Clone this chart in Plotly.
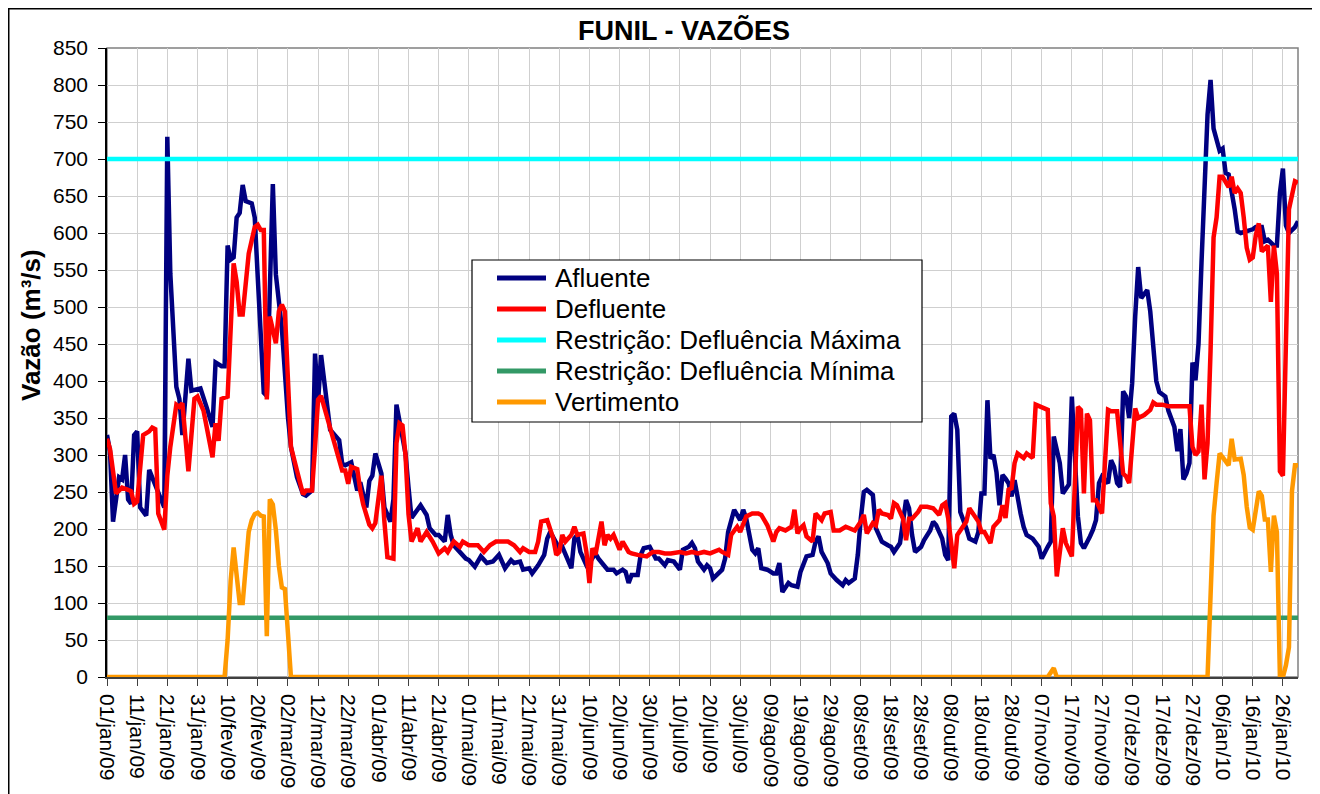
import pandas as pd
import plotly.graph_objects as go

# ---------------- data (day offset from 01/jan/2009, value in m3/s) ----------------
START_DATE = "2009-01-01"

afluente_dias = [0, 1, 2, 4, 5, 6, 7, 8, 9, 10, 11, 13, 14, 15, 17, 18, 19, 20, 21, 23,
                 24, 25, 27, 28, 31, 33, 35, 36, 38, 39, 40, 41, 42, 43, 44, 45, 46, 48, 49, 50,
                 51, 52, 53, 55, 56, 58, 60, 61, 63, 65, 66, 68, 69, 70, 71, 73, 74, 77, 78, 79,
                 81, 83, 84, 86, 87, 88, 89, 91, 92, 94, 95, 96, 97, 99, 100, 101, 104, 106, 107, 109,
                 110, 112, 113, 114, 115, 117, 119, 120, 122, 124, 126, 128, 130, 132, 134, 135, 137, 138, 140, 141,
                 143, 145, 146, 147, 149, 150, 151, 152, 154, 155, 156, 157, 159, 160, 162, 163, 165, 166, 168, 169,
                 171, 172, 173, 174, 176, 177, 178, 180, 182, 183, 185, 186, 188, 190, 191, 193, 194, 195, 196, 198,
                 199, 200, 201, 203, 204, 205, 206, 208, 210, 211, 212, 214, 215, 216, 217, 219, 221, 222, 223, 224,
                 226, 227, 229, 230, 232, 234, 235, 236, 237, 239, 240, 242, 244, 245, 246, 248, 249, 250, 251, 252,
                 254, 255, 257, 259, 260, 261, 262, 263, 265, 266, 267, 268, 270, 271, 273, 274, 275, 277, 278, 279,
                 280, 281, 282, 283, 285, 286, 288, 289, 290, 291, 292, 293, 294, 295, 296, 297, 298, 299, 300, 301,
                 303, 304, 305, 307, 309, 310, 312, 313, 314, 316, 317, 318, 319, 320, 321, 322, 323, 324, 326, 327,
                 328, 329, 330, 332, 333, 334, 335, 336, 337, 338, 339, 340, 341, 342, 343, 345, 346, 347, 348, 349,
                 350, 351, 352, 354, 355, 356, 357, 358, 359, 360, 361, 362, 363, 364, 365, 366, 367, 369, 370, 371,
                 372, 374, 375, 376, 378, 380, 381, 383, 384, 385, 387, 388, 389, 390, 391, 392, 394, 395]
afluente_vals = [327, 305, 210, 270, 267, 300, 240, 234, 327, 332, 229, 218, 280, 270, 250, 240, 229, 730, 545, 392,
                 376, 327, 430, 387, 390, 365, 338, 425, 420, 420, 583, 564, 567, 621, 627, 665, 643, 640, 621, 540,
                 470, 384, 380, 666, 544, 471, 352, 311, 270, 247, 245, 252, 437, 371, 435, 367, 334, 320, 288, 286,
                 290, 252, 263, 229, 265, 272, 302, 275, 229, 210, 240, 368, 343, 302, 256, 215, 232, 219, 201, 192,
                 192, 183, 219, 192, 178, 169, 160, 158, 149, 163, 154, 156, 165, 147, 158, 154, 156, 145, 147, 140,
                 151, 165, 187, 196, 183, 174, 176, 165, 147, 187, 192, 169, 151, 154, 167, 160, 149, 145, 145, 140,
                 145, 142, 127, 138, 138, 165, 174, 176, 160, 160, 151, 158, 156, 145, 172, 176, 181, 174, 156, 145,
                 151, 147, 133, 142, 145, 160, 196, 226, 212, 226, 214, 172, 167, 174, 147, 145, 140, 140, 154, 115,
                 127, 124, 122, 142, 163, 165, 183, 190, 169, 154, 140, 131, 124, 131, 127, 133, 165, 214, 250, 253,
                 246, 201, 183, 178, 176, 169, 176, 181, 239, 228, 192, 169, 176, 185, 198, 210, 205, 187, 165, 158,
                 352, 356, 334, 223, 201, 187, 183, 196, 248, 248, 374, 295, 300, 277, 232, 273, 268, 262, 244, 266,
                 221, 203, 192, 187, 176, 160, 176, 183, 325, 289, 248, 255, 260, 379, 300, 217, 181, 174, 190, 199,
                 212, 262, 271, 262, 293, 284, 262, 257, 386, 379, 350, 397, 487, 554, 512, 523, 494, 447, 400, 385,
                 382, 379, 360, 338, 305, 335, 267, 275, 289, 425, 401, 450, 560, 680, 760, 807, 741, 711, 714, 681,
                 679, 632, 602, 600, 602, 605, 608, 608, 589, 591, 583, 583, 654, 687, 610, 600, 608, 616]

defluente_dias = [0, 1, 3, 5, 7, 8, 9, 10, 12, 14, 15, 16, 17, 19, 20, 21, 23, 24, 25, 27,
                  29, 30, 32, 35, 36, 37, 38, 40, 42, 43, 44, 45, 47, 49, 50, 51, 52, 53, 54, 55,
                  56, 57, 58, 59, 60, 61, 63, 65, 66, 68, 69, 70, 71, 73, 75, 76, 78, 79, 80, 81,
                  83, 84, 85, 87, 88, 89, 91, 92, 93, 95, 96, 97, 98, 99, 100, 101, 103, 104, 106, 108,
                  110, 112, 113, 115, 117, 118, 120, 122, 123, 125, 127, 129, 131, 133, 135, 137, 138, 140, 142, 143,
                  144, 146, 148, 149, 150, 151, 152, 154, 155, 156, 158, 159, 160, 161, 162, 164, 165, 166, 167, 168,
                  170, 171, 173, 174, 176, 179, 181, 183, 185, 187, 190, 192, 194, 196, 198, 200, 203, 204, 206, 207,
                  209, 210, 212, 214, 216, 217, 219, 220, 221, 222, 223, 225, 227, 228, 229, 230, 231, 232, 234, 235,
                  237, 238, 240, 241, 243, 245, 246, 248, 250, 251, 252, 254, 255, 256, 257, 259, 260, 261, 262, 264,
                  265, 266, 267, 269, 270, 272, 274, 276, 277, 278, 279, 280, 281, 282, 284, 285, 286, 287, 289, 290,
                  291, 293, 294, 296, 297, 298, 299, 300, 301, 302, 304, 305, 307, 308, 310, 312, 313, 314, 315, 316,
                  317, 318, 320, 321, 322, 323, 324, 325, 326, 327, 328, 330, 331, 332, 333, 335, 337, 338, 339, 341,
                  342, 344, 346, 347, 348, 350, 352, 355, 357, 359, 360, 361, 362, 363, 364, 365, 366, 367, 368, 369,
                  370, 372, 373, 374, 375, 376, 377, 378, 379, 380, 381, 382, 383, 385, 386, 387, 388, 389, 390, 391,
                  392, 394, 395]
defluente_vals = [322, 308, 248, 256, 253, 251, 234, 237, 327, 332, 337, 335, 221, 199, 272, 311, 368, 365, 370, 278,
                  376, 379, 360, 297, 343, 319, 376, 379, 559, 534, 490, 490, 572, 608, 611, 604, 604, 375, 487, 467,
                  451, 494, 503, 494, 400, 311, 279, 247, 252, 252, 311, 375, 380, 352, 320, 311, 279, 279, 261, 284,
                  281, 252, 233, 206, 201, 208, 272, 210, 162, 160, 316, 343, 340, 300, 220, 183, 201, 183, 196, 183,
                  167, 174, 169, 183, 176, 183, 178, 178, 178, 169, 178, 183, 183, 183, 178, 169, 174, 169, 169, 183,
                  210, 212, 187, 165, 169, 192, 183, 192, 203, 192, 194, 169, 127, 174, 165, 210, 178, 192, 187, 192,
                  172, 183, 169, 167, 165, 163, 169, 169, 167, 167, 169, 167, 169, 167, 169, 167, 172, 169, 165, 192,
                  203, 196, 217, 221, 221, 219, 205, 192, 183, 196, 201, 198, 203, 226, 194, 201, 205, 190, 183, 221,
                  212, 221, 223, 198, 198, 203, 201, 198, 210, 219, 194, 208, 205, 226, 221, 219, 214, 235, 232, 214,
                  185, 214, 214, 223, 230, 230, 228, 219, 232, 235, 214, 174, 147, 192, 205, 210, 228, 221, 210, 196,
                  196, 181, 203, 212, 232, 215, 253, 255, 289, 302, 296, 302, 296, 368, 365, 361, 235, 217, 136, 172,
                  201, 181, 163, 262, 365, 361, 248, 356, 347, 239, 239, 221, 298, 361, 359, 359, 275, 271, 262, 363,
                  350, 354, 361, 371, 368, 368, 366, 366, 366, 366, 311, 300, 305, 368, 267, 316, 441, 594, 621, 676,
                  676, 662, 676, 654, 660, 654, 621, 580, 564, 567, 597, 613, 575, 583, 507, 583, 545, 278, 272, 469,
                  632, 670, 668]

vertimento_dias = [0, 39, 40, 41, 42, 43, 44, 45, 46, 47, 48, 49, 50, 51, 52, 53, 54, 55, 56, 57,
                   58, 59, 60, 61, 312, 313, 314, 315, 365, 366, 367, 368, 369, 370, 371, 372, 373, 374, 376, 377,
                   378, 379, 380, 381, 382, 383, 384, 385, 386, 387, 388, 389, 390, 391, 392, 393, 394, 395]
vertimento_vals = [0, 0, 50, 130, 175, 130, 100, 100, 150, 196, 212, 220, 222, 218, 217, 55, 240, 233, 199, 150,
                   121, 119, 60, 0, 0, 5, 12, 0, 0, 110, 218, 262, 302, 297, 290, 286, 322, 294, 295, 273,
                   230, 202, 199, 229, 251, 245, 213, 213, 142, 218, 196, 0, 0, 16, 40, 251, 286, 286]

restricao_max = 700
restricao_min = 80
periodo_dias = [0, 395]

tick_dias = list(range(0, 391, 10))
tick_labels = ["01/jan/09", "11/jan/09", "21/jan/09", "31/jan/09", "10/fev/09", "20/fev/09",
               "02/mar/09", "12/mar/09", "22/mar/09", "01/abr/09", "11/abr/09", "21/abr/09",
               "01/mai/09", "11/mai/09", "21/mai/09", "31/mai/09", "10/jun/09", "20/jun/09",
               "30/jun/09", "10/jul/09", "20/jul/09", "30/jul/09", "09/ago/09", "19/ago/09",
               "29/ago/09", "08/set/09", "18/set/09", "28/set/09", "08/out/09", "18/out/09",
               "28/out/09", "07/nov/09", "17/nov/09", "27/nov/09", "07/dez/09", "17/dez/09",
               "27/dez/09", "06/jan/10", "16/jan/10", "26/jan/10"]

series_names = ["Afluente", "Defluente", "Restrição: Defluência Máxima",
                "Restrição: Defluência Mínima", "Vertimento"]
series_colors = ["#000080", "#FF0000", "#00FFFF", "#339966", "#FF9900"]

# ---------------- figure ----------------
base = pd.Timestamp(START_DATE)


def to_dates(days):
    return [base + pd.Timedelta(days=int(d)) for d in days]


FONT = "Liberation Sans, Arial, sans-serif"
LW = 4.5

series_x = [to_dates(afluente_dias), to_dates(defluente_dias), to_dates(periodo_dias),
            to_dates(periodo_dias), to_dates(vertimento_dias)]
series_y = [afluente_vals, defluente_vals, [restricao_max] * len(periodo_dias),
            [restricao_min] * len(periodo_dias), vertimento_vals]

fig = go.Figure()
for nm, col, xs, ys in zip(series_names, series_colors, series_x, series_y):
    fig.add_trace(go.Scatter(x=xs, y=ys, mode="lines", name=nm, showlegend=False,
                             line=dict(color=col, width=LW)))

# page is offset by the 8px body margin -> figure coordinates = page - 8
W, H = 1312, 786
L, R, T, B = 99, 22, 40, 117
pw, ph = W - L - R, H - T - B


def px(fx):
    return (fx - L) / pw


def py(fy):
    return (H - B - fy) / ph


fig.update_layout(
    width=W, height=H,
    margin=dict(l=L, r=R, t=T, b=B, autoexpand=False),
    paper_bgcolor="white", plot_bgcolor="white",
    font=dict(family=FONT, color="black", size=21),
    title=dict(text="<b>FUNIL - VAZÕES</b>", x=676 / W, xref="container",
               xanchor="center", y=1 - 23 / H, yanchor="middle",
               font=dict(family=FONT, size=27, color="black")),
    showlegend=False,
    xaxis=dict(
        range=[base, base + pd.Timedelta(days=periodo_dias[-1])],
        tickmode="array", tickvals=to_dates(tick_dias), ticktext=tick_labels,
        tickangle=90, tickfont=dict(family=FONT, size=21, color="black"),
        ticks="outside", ticklen=7, tickcolor="#404040", tickwidth=1,
        ticklabelstandoff=4,
        showgrid=True, gridcolor="#CFCFCF", gridwidth=1,
        showline=True, linecolor="#404040", linewidth=1.5,
        zeroline=False, fixedrange=True,
    ),
    yaxis=dict(
        range=[0, 850], tickmode="linear", tick0=0, dtick=50,
        tickfont=dict(family=FONT, size=21, color="black"),
        ticks="outside", ticklen=7, tickcolor="black", tickwidth=1,
        ticklabelstandoff=6,
        showgrid=True, gridcolor="#CFCFCF", gridwidth=1,
        showline=True, linecolor="black", linewidth=1.5,
        zeroline=False, fixedrange=True,
    ),
)

# y-axis title (Excel places it above the plot-area centre)
fig.add_annotation(xref="paper", yref="paper", x=px(23), y=py(317),
                   text="<b>Vazão (m³/s)</b>", textangle=-90, showarrow=False,
                   xanchor="center", yanchor="middle",
                   font=dict(family=FONT, size=26, color="black"))

# plot-area border (grey) and outer chart border (black)
fig.add_shape(type="rect", xref="paper", yref="paper", x0=0, x1=1, y0=0, y1=1,
              line=dict(color="#808080", width=1.5), layer="below")
fig.add_shape(type="rect", xref="paper", yref="paper",
              x0=px(0.75), x1=px(1307), y0=py(H + 20), y1=py(0.75),
              line=dict(color="black", width=1.5), layer="above")

# legend box (Excel-style, drawn over the plot)
LEG_X0, LEG_X1, LEG_Y0, LEG_Y1 = 464, 914, 252, 414
ROW_Y = [270, 301, 332, 363, 394]
fig.add_shape(type="rect", xref="paper", yref="paper",
              x0=px(LEG_X0), x1=px(LEG_X1), y0=py(LEG_Y1), y1=py(LEG_Y0),
              line=dict(color="black", width=1.2), fillcolor="white", layer="above")
for nm, col, ry in zip(series_names, series_colors, ROW_Y):
    fig.add_shape(type="line", xref="paper", yref="paper",
                  x0=px(489), x1=px(538), y0=py(ry), y1=py(ry),
                  line=dict(color=col, width=5), layer="above")
    fig.add_annotation(xref="paper", yref="paper", x=px(545), y=py(ry),
                       text=nm, showarrow=False, xanchor="left", yanchor="middle",
                       font=dict(family=FONT, size=26, color="black"))

fig.write_html("out.html")
